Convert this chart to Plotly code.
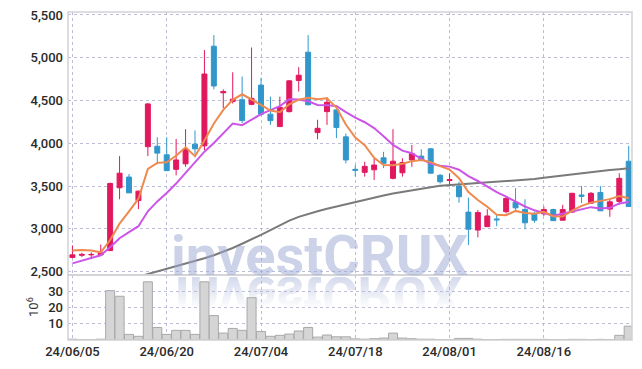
import base64
import plotly.graph_objects as go

dates = ["24/06/05","24/06/07","24/06/10","24/06/11","24/06/12","24/06/13","24/06/14","24/06/17","24/06/18","24/06/19",
         "24/06/20","24/06/21","24/06/24","24/06/25","24/06/26","24/06/27","24/06/28","24/07/01","24/07/02","24/07/03",
         "24/07/04","24/07/05","24/07/08","24/07/09","24/07/10","24/07/11","24/07/12","24/07/15","24/07/16","24/07/17",
         "24/07/18","24/07/19","24/07/22","24/07/23","24/07/24","24/07/25","24/07/26","24/07/29","24/07/30","24/07/31",
         "24/08/01","24/08/02","24/08/05","24/08/06","24/08/07","24/08/08","24/08/09","24/08/12","24/08/13","24/08/14",
         "24/08/16","24/08/19","24/08/20","24/08/21","24/08/22","24/08/23","24/08/26","24/08/27","24/08/28","24/08/29"]

opens = [2665,2690,2695,2695,2745,3480,3605,3330,3960,3965,
         3865,3695,3760,3990,3970,5135,4590,4490,4510,4455,
         4680,4340,4195,4370,4735,5065,4125,4370,4390,4075,
         3695,3660,3690,3830,3590,3655,3805,3850,3935,3625,
         3565,3500,3195,2985,3025,3115,3200,3310,3225,3170,
         3175,3225,3100,3195,3395,3300,3425,3230,3320,3790]
highs = [2805,2720,2725,2815,3540,3850,3640,3445,4470,4070,
         4070,4050,4165,4150,5090,5265,4630,4830,4780,5120,
         4765,4545,4545,4740,4890,5265,4275,4540,4395,4115,
         3745,3785,3825,3900,4165,3825,3980,3930,3945,3640,
         3650,3550,3365,3220,3230,3160,3375,3475,3345,3200,
         3260,3235,3280,3420,3500,3430,3500,3355,3650,3970]
lows = [2655,2670,2645,2685,2740,3345,3420,3230,3850,3755,
        3680,3625,3725,3875,3920,4630,4410,4465,4235,4445,
        4320,4215,4190,4360,4605,4445,4045,4215,4060,3765,
        3610,3610,3570,3710,3578,3610,3725,3800,3645,3530,
        3510,3305,2810,2900,3020,3030,3180,3220,2995,3070,
        3150,3095,3100,3185,3300,3290,3210,3140,3280,3255]
closes = [2695,2700,2700,2720,3530,3650,3420,3440,4460,3885,
          3680,3805,3935,3935,4810,4670,4605,4515,4265,4525,
          4340,4265,4420,4730,4795,4450,4175,4480,4185,3805,
          3685,3730,3745,3765,3790,3775,3880,3805,3650,3550,
          3575,3375,2995,3190,3150,3105,3355,3245,3070,3100,
          3225,3095,3225,3415,3380,3415,3210,3315,3590,3260]
ma_short = [2745,2752,2745,2725,2869,3060,3204,3352,3700,3771,
            3777,3854,3953,3848,4033,4231,4391,4507,4573,4516,
            4450,4382,4363,4456,4510,4532,4514,4526,4417,4219,
            4066,3977,3830,3746,3743,3761,3791,3803,3780,3732,
            3692,3591,3429,3337,3257,3163,3159,3209,3185,3175,
            3199,3147,3143,3212,3268,3306,3329,3347,3382,3358]
ma_mid = [2596,2627,2654,2690,2784,2890,2962,3030,3205,3320,
          3419,3529,3653,3774,3902,4004,4123,4230,4211,4275,
          4341,4387,4435,4515,4513,4491,4448,4445,4437,4365,
          4299,4246,4178,4082,3981,3914,3884,3817,3763,3738,
          3727,3691,3616,3559,3495,3428,3375,3319,3261,3216,
          3181,3153,3176,3199,3222,3253,3238,3245,3297,3313]
ma_long = [None,None,None,None,None,None,None,2440,2470,2500,
           2530,2560,2590,2622,2655,2690,2730,2775,2825,2875,
           2930,2985,3040,3095,3140,3175,3205,3235,3262,3290,
           3315,3340,3365,3390,3412,3432,3452,3470,3487,3502,
           3513,3521,3528,3534,3542,3550,3557,3563,3572,3583,
           3596,3610,3623,3637,3652,3664,3676,3687,3697,3707]
volume = [0.5,0.2,0.2,0.5,30.7,27.2,3.5,2.3,36.2,7.8,
          3.5,6.0,6.0,3.5,36.2,15.2,4.3,7.2,6.0,26.3,
          5.3,2.3,2.9,3.7,5.6,7.8,1.8,3.1,2.0,2.0,
          0.7,0.5,0.8,1.2,4.3,1.2,0.8,0.5,0.5,0.3,
          0.3,1.0,1.0,0.5,0.3,0.3,0.4,0.4,0.4,0.4,
          0.4,0.2,0.2,0.4,0.4,0.2,0.4,0.2,2.9,8.6]
tick_dates = ["24/06/05","24/06/20","24/07/04","24/07/18","24/08/01","24/08/16"]
price_ticks = [2500,3000,3500,4000,4500,5000,5500]
vol_ticks = [10,20,30]
watermark = "investCRUX"

RED = "#e2185f"
BLUE = "#3197cb"
FONT = "Roboto, sans-serif"
GRID = "rgba(175,178,210,0.85)"
TICKFONT = dict(family=FONT, size=13, color="#2a2a2a", weight=500)

fig = go.Figure()
fig.add_trace(go.Candlestick(
    x=dates, open=opens, high=highs, low=lows, close=closes,
    increasing=dict(line=dict(color=RED, width=1), fillcolor=RED),
    decreasing=dict(line=dict(color=BLUE, width=1), fillcolor=BLUE),
    xaxis="x", yaxis="y", showlegend=False, hoverinfo="skip"))
fig.add_trace(go.Scatter(x=dates, y=ma_long, mode="lines", line=dict(color="#7a7a7a", width=2),
                         xaxis="x", yaxis="y", showlegend=False, hoverinfo="skip"))
fig.add_trace(go.Scatter(x=dates, y=ma_mid, mode="lines", line=dict(color="#cc55e8", width=2),
                         xaxis="x", yaxis="y", showlegend=False, hoverinfo="skip"))
fig.add_trace(go.Scatter(x=dates, y=ma_short, mode="lines", line=dict(color="#ee8a4e", width=2),
                         xaxis="x", yaxis="y", showlegend=False, hoverinfo="skip"))
fig.add_trace(go.Bar(x=dates, y=volume, marker=dict(color="#d5d5d5", line=dict(color="#a9a9a9", width=1)),
                     xaxis="x", yaxis="y2", showlegend=False, hoverinfo="skip"))

# the page body has an 8px margin, so the figure is sized and offset to compensate
vdom = 0.198
fig.update_layout(
    width=634, height=361, autosize=False,
    margin=dict(l=60, r=10, t=4, b=29),
    paper_bgcolor="white", plot_bgcolor="rgba(0,0,0,0)",
    bargap=0.04, boxgap=0.25,
    xaxis=dict(type="category", domain=[0, 1], anchor="y2", range=[-0.47, 59.35],
               tickmode="array", tickvals=tick_dates, ticktext=tick_dates,
               showgrid=True, gridcolor=GRID, griddash="dot", gridwidth=1,
               tickfont=TICKFONT, ticks="", automargin=False, ticklabeloverflow="allow",
               ticklabelstandoff=2, showline=False, zeroline=False,
               rangeslider=dict(visible=False), fixedrange=True),
    yaxis=dict(domain=[vdom, 1], anchor="x", range=[2459, 5535],
               tickmode="array", tickvals=price_ticks, tickformat=",",
               showgrid=True, gridcolor=GRID, griddash="dot", gridwidth=1,
               tickfont=TICKFONT, ticks="", automargin=False, ticklabeloverflow="allow",
               ticklabelstandoff=4, zeroline=False, showline=False),
    yaxis2=dict(domain=[0, vdom], anchor="x", range=[0, 40.4],
                tickmode="array", tickvals=vol_ticks,
                showgrid=True, gridcolor=GRID, griddash="dot", gridwidth=1,
                tickfont=TICKFONT, ticks="", automargin=False, ticklabeloverflow="allow",
                ticklabelstandoff=4, zeroline=False, showline=False),
)

frame = "#d2d2d6"
fig.add_shape(type="rect", xref="paper", yref="paper", x0=0, x1=1, y0=vdom, y1=1,
              line=dict(color=frame, width=1.5), layer="above")
fig.add_shape(type="rect", xref="paper", yref="paper", x0=0, x1=1, y0=0, y1=vdom,
              line=dict(color=frame, width=1.5), layer="above")

fig.add_annotation(text="10<sup>6</sup>", xref="paper", yref="paper", x=-0.081, y=0.065,
                   textangle=-90, showarrow=False, font=dict(family=FONT, size=13, color="#333"))

fig.add_annotation(text="<b>" + watermark + "</b>", xref="paper", yref="paper",
                   x=0.446, y=0.149, xanchor="center", yanchor="bottom", showarrow=False,
                   font=dict(family=FONT, size=56, color="rgba(158,170,212,0.52)"))

svg = ('<svg xmlns="http://www.w3.org/2000/svg" width="287" height="40" viewBox="0 0 287 40">'
       '<defs><linearGradient id="g" x1="0" y1="0" x2="0" y2="1">'
       '<stop offset="0" stop-color="#fff" stop-opacity="0.9"/>'
       '<stop offset="0.8" stop-color="#fff" stop-opacity="0"/></linearGradient>'
       '<mask id="m"><rect width="287" height="40" fill="url(#g)"/></mask></defs>'
       '<g mask="url(#m)"><text transform="scale(1,-1)" x="143.5" y="0" text-anchor="middle" '
       'font-family="Roboto, sans-serif" font-weight="bold" '
       'font-size="56" fill="rgb(160,172,212)" fill-opacity="0.5" textLength="287" '
       'lengthAdjust="spacingAndGlyphs">' + watermark + '</text></g></svg>')
src = "data:image/svg+xml;base64," + base64.b64encode(svg.encode()).decode()
fig.add_layout_image(source=src, xref="paper", yref="paper", x=(175 - 68) / 564, y=(340 - 277) / 328,
                     sizex=287 / 564, sizey=40 / 328, sizing="stretch", xanchor="left", yanchor="top",
                     layer="below")

fig.write_html("out.html")
